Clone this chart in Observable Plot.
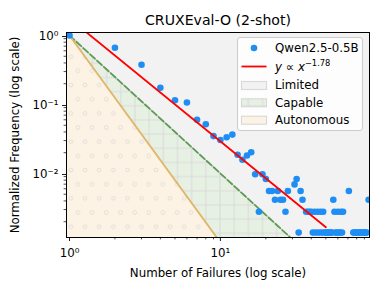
<!DOCTYPE html>
<html><head><meta charset="utf-8">
<script src="https://cdn.jsdelivr.net/npm/d3@7"></script>
<script src="https://cdn.jsdelivr.net/npm/@observablehq/plot@0.6"></script>
<style>body{margin:0;background:#fff;} svg{display:block;}</style>
</head><body><div id="chart"></div>
<script>
// ---- data ----
const failures = [1, 2, 3, 4, 5, 6, 7, 8, 9, 10, 11, 12, 13, 14, 15, 16, 17, 18, 19, 20,
  21, 22, 23, 24, 25, 26, 27, 28, 31, 32, 33, 34, 35,
  37, 38, 39, 40, 41, 42, 43, 44, 45, 46, 47, 48, 49, 50,
  51, 52, 53, 54, 55, 56, 57, 58, 59, 60, 61, 62, 63, 64, 65,
  71, 76, 77, 79, 80, 82, 84, 85, 87, 89, 90, 92, 93, 96];
const frequency = [1.0, 0.664, 0.377, 0.175, 0.115, 0.107, 0.0601, 0.0518, 0.0348, 0.0306, 0.0335, 0.0366, 0.0187, 0.0158, 0.0182, 0.0203, 0.00972, 0.00278, 0.00972, 0.00833,
  0.00556, 0.00556, 0.00417, 0.00556, 0.00417, 0.00417, 0.00278, 0.00556, 0.00694, 0.00833, 0.00139, 0.00556, 0.00417,
  0.00278, 0.00278, 0.00278, 0.00278, 0.00139, 0.00278, 0.00139, 0.00278, 0.00139, 0.00278, 0.00139, 0.00278, 0.00139, 0.00139,
  0.00139, 0.00139, 0.00139, 0.00139, 0.00139, 0.00417, 0.00278, 0.00139, 0.00139, 0.00278, 0.00139, 0.00139, 0.00278, 0.00139, 0.00278,
  0.00556, 0.00139, 0.00139, 0.00139, 0.00139, 0.00139, 0.00139, 0.00139, 0.00139, 0.00139, 0.00139, 0.00139, 0.00139, 0.00417];
const seriesName = "Qwen2.5-0.5B";
const fitCoefficient = 1.76;
const fitExponent = -1.78;
const fitRange = [1, 50];
const capableExponent = -2;     // boundary Limited / Capable
const autonomousExponent = -3;  // boundary Capable / Autonomous
const boundaryStart = 1;
const regionNames = ["Limited", "Capable", "Autonomous"];
const xDomain = [0.955, 97.3];
const yDomain = [0.00118, 1.105];
const xMajorTicks = [1, 10];
const xMinorTicks = [2, 3, 4, 5, 6, 7, 8, 9, 20, 30, 40, 50, 60, 70, 80, 90];
const yMajorTicks = [1, 0.1, 0.01];
const yMinorTicks = [0.002, 0.003, 0.004, 0.005, 0.006, 0.007, 0.008, 0.009,
  0.02, 0.03, 0.04, 0.05, 0.06, 0.07, 0.08, 0.09, 0.2, 0.3, 0.4, 0.5, 0.6, 0.7, 0.8, 0.9];
const titleText = "CRUXEval-O (2-shot)";
const xLabel = "Number of Failures (log scale)";
const yLabel = "Normalized Frequency (log scale)";

// ---- derived tables ----
const points = failures.map((x, i) => ({x, y: frequency[i]}));
const fitLine = fitRange.map(x => ({x, y: fitCoefficient * Math.pow(x, fitExponent)}));
const regionX = xDomain.slice();
const boundaryX = [boundaryStart, xDomain[1]];
const supMap = {"0":"⁰","1":"¹","2":"²","3":"³","4":"⁴","5":"⁵","6":"⁶","7":"⁷","8":"⁸","9":"⁹","-":"⁻"};
const fmtPow = d => "10" + String(Math.round(Math.log10(d))).split("").map(c => supMap[c]).join("");

const colors = {
  limited: "#f2f2f2", capable: "#e7f1e3", autonomous: "#fdf3e4",
  blue: "#1e8ef5", red: "#ff0000", green: "#5f9b57", orange: "#e6ae4c", edge: "#cbcbcb"
};

const plot = Plot.plot({
  width: 382, height: 297,
  marginLeft: 66, marginRight: 13, marginTop: 32, marginBottom: 60,
  style: {fontFamily: "DejaVu Sans", fontSize: "11.8px", background: "#fff", color: "#000"},
  x: {type: "log", domain: xDomain},
  y: {type: "log", domain: yDomain},
  marks: [
    Plot.areaY(regionX, {x: d => d, y1: d => Math.pow(d, capableExponent), y2: () => yDomain[1], fill: colors.limited, clip: true}),
    Plot.areaY(regionX, {x: d => d, y1: d => Math.pow(d, autonomousExponent), y2: d => Math.pow(d, capableExponent), fill: colors.capable, clip: true}),
    Plot.areaY(regionX, {x: d => d, y1: d => Math.pow(d, autonomousExponent), y2: d => Math.pow(d, capableExponent), fill: "url(#hatch-grid)", clip: true}),
    Plot.areaY(regionX, {x: d => d, y1: () => yDomain[0], y2: d => Math.pow(d, autonomousExponent), fill: colors.autonomous, clip: true}),
    Plot.areaY(regionX, {x: d => d, y1: () => yDomain[0], y2: d => Math.pow(d, autonomousExponent), fill: "url(#hatch-circ)", clip: true}),
    Plot.line(boundaryX, {x: d => d, y: d => Math.pow(d, capableExponent), stroke: colors.edge, strokeWidth: 1.1, clip: true}),
    Plot.line(boundaryX, {x: d => d, y: d => Math.pow(d, capableExponent), stroke: colors.green, strokeWidth: 1.8, strokeDasharray: "6.5,2.8", clip: true}),
    Plot.line(boundaryX, {x: d => d, y: d => Math.pow(d, autonomousExponent), stroke: colors.orange, strokeWidth: 1.8, clip: true}),
    Plot.line(boundaryX, {x: d => d, y: d => Math.pow(d, autonomousExponent), stroke: colors.edge, strokeWidth: 0.6, strokeOpacity: 0.8, clip: true}),
    Plot.dot(points, {x: "x", y: "y", r: 3.3, fill: colors.blue, stroke: "none", clip: true}),
    Plot.line(fitLine, {x: "x", y: "y", stroke: colors.red, strokeWidth: 1.8, clip: true}),
    Plot.frame({stroke: "#000", strokeWidth: 1}),
    Plot.axisX(xMajorTicks, {tickSize: 4, tickPadding: 7, tickFormat: fmtPow, label: null, strokeWidth: 0.9}),
    Plot.axisX(xMinorTicks, {tickSize: 2.4, strokeWidth: 0.7, fill: "none", label: null}),
    Plot.axisY(yMajorTicks, {tickSize: 4, tickPadding: 4, tickFormat: fmtPow, label: null, strokeWidth: 0.9, dy: 1}),
    Plot.axisY(yMinorTicks, {tickSize: 2.4, strokeWidth: 0.7, fill: "none", label: null}),
    Plot.text([titleText], {text: d => d, frameAnchor: "top", dy: -12, lineAnchor: "middle", textAnchor: "middle", fontSize: 14.1}),
    Plot.text([xLabel], {text: d => d, frameAnchor: "bottom", dy: 36, lineAnchor: "middle", textAnchor: "middle", fontSize: 11.8}),
    Plot.text([yLabel], {text: d => d, frameAnchor: "left", dx: -51.5, rotate: -90, lineAnchor: "middle", textAnchor: "middle", fontSize: 11.8})
  ]
});
document.getElementById("chart").appendChild(plot);

// ---- hatch patterns + legend (decoration) ----
const svg = d3.select(plot);
const defs = svg.insert("defs", ":first-child");
const S = 85 / 6;
const pg = defs.append("pattern").attr("id", "hatch-grid").attr("patternUnits", "userSpaceOnUse")
  .attr("width", S).attr("height", S);
pg.append("path").attr("d", `M7.5,0V${S}M0,6.6H${S}`).attr("stroke", "#dadada").attr("stroke-width", 1.1).attr("fill", "none");
const pc = defs.append("pattern").attr("id", "hatch-circ").attr("patternUnits", "userSpaceOnUse")
  .attr("width", S).attr("height", 2 * S);
[[0, 0], [S, 0], [0, 2 * S], [S, 2 * S], [S / 2, S]].forEach(([cx, cy]) =>
  pc.append("circle").attr("cx", cx).attr("cy", cy).attr("r", 1.9).attr("fill", "none").attr("stroke", "#dcdcdc").attr("stroke-width", 0.9));

const lg = svg.append("g").attr("font-family", "DejaVu Sans").attr("font-size", 11.8).attr("text-anchor", "start");
lg.append("rect").attr("x", 237.5).attr("y", 37.5).attr("width", 125).attr("height", 93).attr("rx", 2.5)
  .attr("fill", "#fff").attr("fill-opacity", 0.8).attr("stroke", "#cccccc").attr("stroke-width", 1);
const tx = 275, hx = 241.5, hw = 25;
lg.append("circle").attr("cx", 254).attr("cy", 48).attr("r", 3.3).attr("fill", colors.blue);
lg.append("text").attr("x", tx).attr("y", 51.8).text(seriesName);
lg.append("line").attr("x1", hx).attr("x2", hx + hw).attr("y1", 66.5).attr("y2", 66.5).attr("stroke", colors.red).attr("stroke-width", 1.8);
const ft = lg.append("text").attr("x", tx).attr("y", 70.5);
ft.append("tspan").attr("font-style", "italic").text("y");
ft.append("tspan").text(" ∝ ");
ft.append("tspan").attr("font-style", "italic").text("x");
ft.append("tspan").attr("dy", -5).attr("font-size", 8.3).text("−" + Math.abs(fitExponent).toFixed(2));
const patchRows = [
  {name: regionNames[0], y: 81.5, fill: colors.limited, hatch: null},
  {name: regionNames[1], y: 98.8, fill: colors.capable, hatch: "url(#hatch-grid)"},
  {name: regionNames[2], y: 116.2, fill: colors.autonomous, hatch: "url(#hatch-circ)"}
];
patchRows.forEach(r => {
  lg.append("rect").attr("x", hx).attr("y", r.y).attr("width", hw).attr("height", 8).attr("fill", r.fill);
  if (r.hatch) lg.append("rect").attr("x", hx).attr("y", r.y).attr("width", hw).attr("height", 8).attr("fill", r.hatch);
  lg.append("rect").attr("x", hx).attr("y", r.y).attr("width", hw).attr("height", 8).attr("fill", "none").attr("stroke", "#d8d8d8").attr("stroke-width", 1.1);
  lg.append("text").attr("x", tx).attr("y", r.y + 7.8).text(r.name);
});
</script>
</body></html>
